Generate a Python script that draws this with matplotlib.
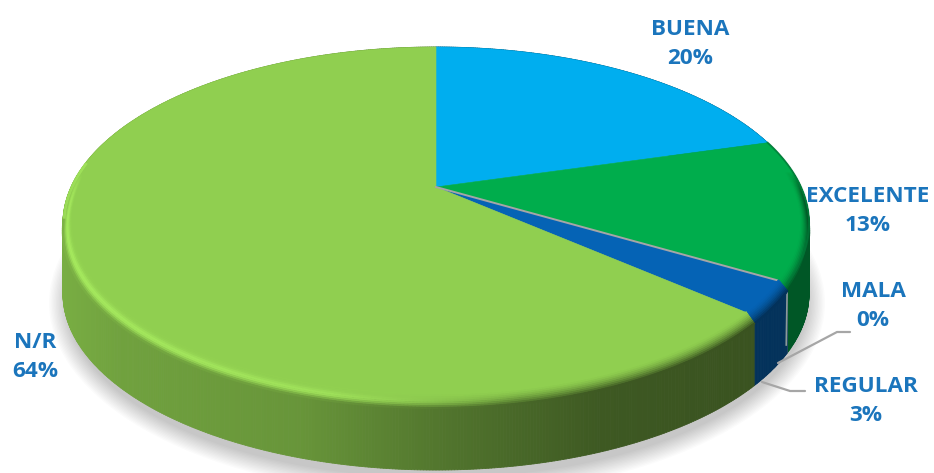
import numpy as np
import matplotlib
matplotlib.use('Agg')
import matplotlib.pyplot as plt
from matplotlib.collections import LineCollection, PolyCollection
from matplotlib.patches import Polygon

categories = ['BUENA', 'EXCELENTE', 'MALA', 'REGULAR', 'N/R']
values = [20, 13, 0, 3, 64]
face_colors = ['#00AEEF', '#00AD4C', '#A6A6A6', '#0563B5', '#90CF50']
side_factors = [0.45, 0.5, 0.75, 0.5, 1.0]

label_pos = [(690, 44), (868, 211), (873, 306), (866, 401), (35, 357)]
leaders = {'MALA': [(778, 363), (837, 332), (850, 332)],
           'REGULAR': [(762, 382), (790, 391), (805, 391)]}

# pie geometry in pixels
CX, CY = 436, 187
R = 365
K = 0.2068
A = -130.3
DEPTH = 70
TWIST = 0.035

fractions = np.array(values) / np.sum(values)
edges = np.concatenate([[0], np.cumsum(fractions)]) * 2 * np.pi


def project(theta, r=1.0):
    # tilted disc: circle coordinates to screen pixels with some perspective
    theta = theta + TWIST * np.sin(theta)
    u = r * np.sin(theta)
    v = r * np.cos(theta)
    w = 1 + K * v
    return CX + R * u / w, (A * v + CY) / w


def hex_rgb(c):
    return np.array(matplotlib.colors.to_rgb(c))


def side_shade(x):
    # lighting along the side wall, bright on the left, dark at the front right
    return np.interp(x, [60, 120, 300, 450, 600, 750, 810],
                     [0.84, 0.78, 0.72, 0.56, 0.43, 0.4, 0.4])


fig = plt.figure(figsize=(9.34, 4.73), dpi=100)
ax = fig.add_axes([0, 0, 1, 1])
ax.set_xlim(0, 934)
ax.set_ylim(473, 0)
ax.axis('off')

# soft shadow under the disc
t = np.linspace(0, 2 * np.pi, 300)
for s in np.linspace(18, 0, 14):
    sx = 437 + (370 + s) * np.cos(t)
    sy = 303 + (175 + s) * np.sin(t)
    ax.fill(sx, sy, color='black', alpha=0.016, lw=0, zorder=1)

# side wall, drawn as thin strips for each slice
for i, name in enumerate(categories):
    a0, a1 = edges[i], edges[i + 1]
    n = max(int((a1 - a0) / np.radians(0.4)), 1)
    th = np.linspace(a0, a1, n + 1)
    x, y = project(th)
    quads, cols = [], []
    base = hex_rgb(face_colors[i])
    for j in range(n):
        quads.append([(x[j], y[j]), (x[j + 1], y[j + 1]),
                      (x[j + 1], y[j + 1] + DEPTH), (x[j], y[j] + DEPTH)])
        xm = (x[j] + x[j + 1]) / 2
        f = side_shade(xm) if name == 'N/R' else side_factors[i]
        cols.append(base * f)
    ax.add_collection(PolyCollection(quads, facecolors=cols, edgecolors=cols,
                                     linewidths=0.6, zorder=2))

# thin grey seam of the empty slice on the wall
xm, ym = project(edges[3])
ax.plot([xm, xm - 1], [ym, ym + DEPTH - 8], color='#8C9A98', lw=1.2, zorder=3)

# top faces
for i, name in enumerate(categories):
    a0, a1 = edges[i], edges[i + 1]
    th = np.linspace(a0, a1, max(int((a1 - a0) / np.radians(0.5)), 2))
    x, y = project(th)
    pts = [(CX, CY)] + list(zip(x, y))
    if values[i] == 0:
        ax.plot([p[0] for p in pts], [p[1] for p in pts],
                color=face_colors[i], lw=1.4, zorder=5)
    else:
        ax.add_patch(Polygon(pts, closed=True, facecolor=face_colors[i],
                             edgecolor=face_colors[i], lw=0.4, zorder=4))

# rounded edge between top and wall
for i, name in enumerate(categories):
    a0, a1 = edges[i], edges[i + 1]
    n = max(int((a1 - a0) / np.radians(0.5)), 2)
    th = np.linspace(a0, a1, n + 1)
    thm = (th[:-1] + th[1:]) / 2
    base = hex_rgb(face_colors[i])
    weight = np.clip((0.12 - np.cos(thm)) / 0.3, 0, 1)
    for s in np.linspace(0, 1, 9):
        x, y = project(th, 1 - 0.022 * (1 - s))
        y = y + 8 * s * np.clip((0.12 - np.cos(th)) / 0.3, 0, 1)
        segs = np.stack([np.c_[x[:-1], y[:-1]], np.c_[x[1:], y[1:]]], axis=1)
        xmid = (x[:-1] + x[1:]) / 2
        if name == 'N/R':
            side = base[None, :] * side_shade(xmid)[:, None]
            glow = np.interp(xmid, [60, 330, 420, 520], [0.9, 0.75, 0.4, 0])
        else:
            side = np.tile(base * side_factors[i], (len(xmid), 1))
            glow = np.zeros(len(xmid))
        mix = s ** 1.6
        col = base * (1 - mix) + side * mix
        bump = np.exp(-((s - 0.55) / 0.3) ** 2) * glow
        col = col + (hex_rgb('#A9EE60') - col) * bump[:, None]
        col = np.clip(col, 0, 1)
        rgba = np.c_[col, weight]
        ax.add_collection(LineCollection(segs, colors=rgba, linewidths=1.6,
                                         zorder=6, capstyle='round'))

# dark outline on the back right of the green slice, light one on the back left
th = np.linspace(edges[1], edges[2], 60)
x, y = project(th)
ax.plot(x, y, color='#007A38', lw=1.4, alpha=0.7, zorder=7)
th = np.linspace(np.radians(280), np.radians(262), 30)
x, y = project(th, 0.997)
ax.plot(x, y, color='#A2E55C', lw=2, alpha=0.8, zorder=7)

# leader lines
for name, pts in leaders.items():
    ax.plot([p[0] for p in pts], [p[1] for p in pts], color='#A6A6A6', lw=1.6,
            solid_capstyle='round', solid_joinstyle='round', zorder=8)

# labels
for name, val, (lx, ly) in zip(categories, values, label_pos):
    ax.text(lx, ly, f'{name}\n{val}%', ha='center', va='center', color='#1B75BC',
            family='Open Sans', fontweight='bold', fontsize=16.2, linespacing=1.5,
            zorder=9)

fig.savefig('out.png', dpi=100)
